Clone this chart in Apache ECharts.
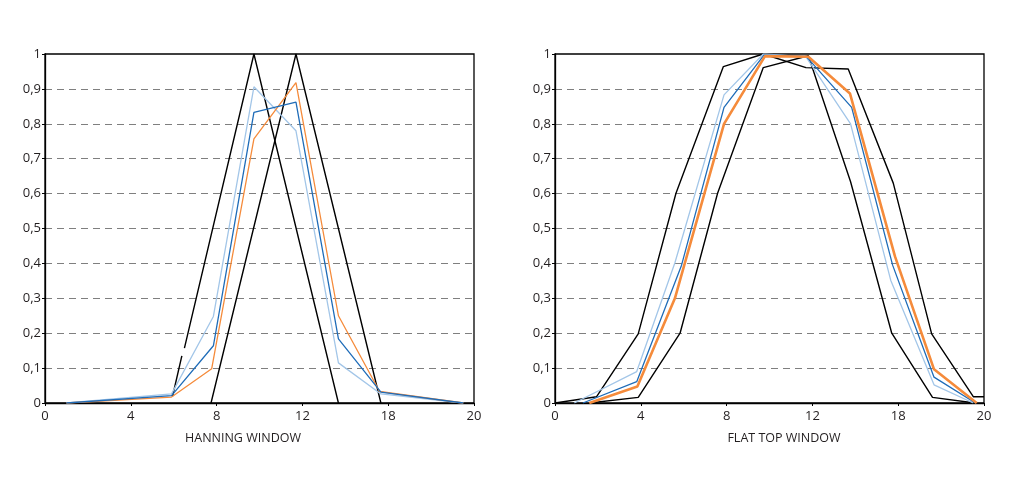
<!DOCTYPE html>
<html>
<head>
<meta charset="utf-8">
<script src="https://cdn.jsdelivr.net/npm/echarts@6/dist/echarts.min.js"></script>
<style>
  html, body { margin: 0; padding: 0; background: #fff; }
  #main { width: 1024px; height: 492px; }
</style>
</head>
<body>
<div id="main"></div>
<script>
// tick labels on x are not linear: the 5 equal steps are labelled like this
const xTickLabels = ['0', '4', '8', '12', '18', '20'];
const chartTitles = ['HANNING WINDOW', 'FLAT TOP WINDOW'];

// HANNING WINDOW (left)
const hanBlackA1 = [[5.95, 0.02], [6.38, 0.135]];
const hanBlackA2 = [[6.5, 0.157], [9.74, 1.0], [13.68, 0]];
const hanBlackB = [[7.74, 0], [11.7, 1.0], [15.66, 0]];
const hanLight = [[1.0, 0], [5.9, 0.026], [7.85, 0.248], [9.74, 0.906], [11.7, 0.78], [13.68, 0.115], [15.66, 0.026], [19.5, 0]];
const hanBlue = [[1.0, 0], [5.9, 0.021], [7.85, 0.164], [9.74, 0.833], [11.7, 0.862], [13.68, 0.184], [15.66, 0.031], [19.5, 0]];
const hanOrange = [[1.0, 0], [5.9, 0.017], [7.77, 0.098], [9.74, 0.757], [11.7, 0.918], [13.68, 0.25], [15.6, 0.033], [19.5, 0]];

// FLAT TOP WINDOW (right)
const flatBlackUp = [[0, 0], [1.94, 0.018], [3.88, 0.198], [5.64, 0.601], [7.85, 0.964], [9.71, 1.0], [11.7, 0.961], [13.67, 0.957], [15.77, 0.63], [17.56, 0.198], [19.5, 0.018], [20, 0.018]];
const flatBlackLow = [[1.6, 0], [3.88, 0.016], [5.83, 0.2], [7.58, 0.601], [9.71, 0.961], [11.81, 0.995], [13.78, 0.634], [15.7, 0.2], [17.6, 0.016], [19.58, 0]];
const flatLight = [[0.9, 0], [3.81, 0.09], [5.59, 0.402], [7.88, 0.883], [9.71, 1.0], [11.7, 0.992], [13.78, 0.80], [15.65, 0.352], [17.67, 0.052], [19.5, 0]];
const flatBlue = [[1.3, 0], [3.81, 0.061], [5.9, 0.395], [7.88, 0.847], [9.74, 0.997], [11.7, 0.994], [13.83, 0.847], [15.74, 0.395], [17.67, 0.074], [19.6, 0]];
const flatOrange = [[1.6, 0], [3.84, 0.047], [5.59, 0.30], [7.88, 0.80], [9.79, 0.994], [11.81, 0.992], [13.75, 0.887], [15.85, 0.42], [17.67, 0.0965], [19.66, 0]];

const FONT = 'Open Sans';
const TXT = '#231f20';

function makeX(idx) {
    return {
        gridIndex: idx,
        type: 'value',
        min: 0, max: 20, interval: 4,
        axisLine: { lineStyle: { color: '#000', width: 1.3 } },
        axisTick: { show: true, length: 3, lineStyle: { color: '#000' } },
        axisLabel: {
            fontFamily: FONT, fontSize: 13, color: TXT, margin: 7,
            formatter: function (v) { return xTickLabels[Math.round(v / 4)]; }
        },
        splitLine: { show: false }
    };
}

function makeY(idx) {
    return {
        gridIndex: idx,
        type: 'value',
        min: 0, max: 1, interval: 0.1,
        axisLine: { show: true, lineStyle: { color: '#000', width: 1.3 } },
        axisTick: { show: true, length: 3, lineStyle: { color: '#000' } },
        axisLabel: {
            fontFamily: FONT, fontSize: 13, color: TXT, margin: 4,
            formatter: function (v) { return String(Math.round(v * 10) / 10).replace('.', ','); }
        },
        splitLine: {
            show: true, showMinLine: false, showMaxLine: false,
            lineStyle: { color: '#7f7f7f', type: [7, 5], width: 1.1 }
        }
    };
}

function line(idx, data, color, width, z) {
    return {
        type: 'line',
        xAxisIndex: idx, yAxisIndex: idx,
        data: data,
        symbol: 'none',
        silent: true,
        animation: false,
        z: z,
        lineStyle: { color: color, width: width }
    };
}

const LIGHT = '#a3c6e8';
const BLUE = '#1f6cb8';
const ORANGE = '#f58b3b';
const BLACK = '#000';

let myChart = echarts.init(document.getElementById('main'));
let option = {
    backgroundColor: '#fff',
    animation: false,
    grid: [
        { left: 45, right: 550, top: 54, bottom: 89, show: true, borderColor: '#000', borderWidth: 1.3, backgroundColor: 'transparent' },
        { left: 555, right: 40, top: 54, bottom: 89, show: true, borderColor: '#000', borderWidth: 1.3, backgroundColor: 'transparent' }
    ],
    graphic: [
        { type: 'text', x: 243, y: 438, style: { text: chartTitles[0], align: 'center', verticalAlign: 'middle', fontFamily: FONT, fontSize: 12.5, fill: TXT } },
        { type: 'text', x: 784, y: 438, style: { text: chartTitles[1], align: 'center', verticalAlign: 'middle', fontFamily: FONT, fontSize: 12.5, fill: TXT } }
    ],
    xAxis: [makeX(0), makeX(1)],
    yAxis: [makeY(0), makeY(1)],
    series: [
        line(0, hanBlackA1, BLACK, 1.4, 3),
        line(0, hanBlackA2, BLACK, 1.4, 3),
        line(0, hanBlackB, BLACK, 1.4, 3),
        line(0, hanLight, LIGHT, 1.3, 4),
        line(0, hanOrange, ORANGE, 1.3, 5),
        line(0, hanBlue, BLUE, 1.3, 6),

        line(1, flatBlackUp, BLACK, 1.4, 3),
        line(1, flatBlackLow, BLACK, 1.4, 3),
        line(1, flatLight, LIGHT, 1.3, 4),
        line(1, flatBlue, BLUE, 1.3, 5),
        line(1, flatOrange, ORANGE, 2.6, 6)
    ]
};
myChart.setOption(option);
</script>
</body>
</html>
